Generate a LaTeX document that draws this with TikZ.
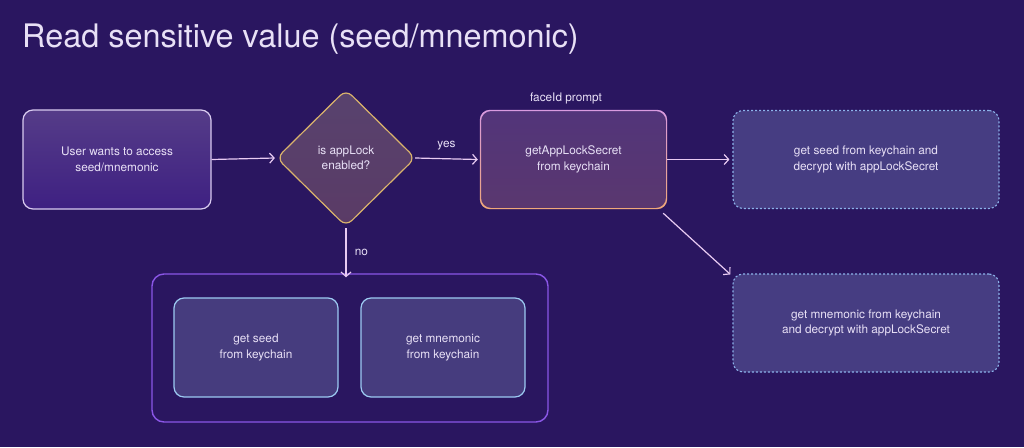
\documentclass[tikz,border=0pt]{standalone}
\usepackage{fontspec}
\setmainfont{TeX Gyre Heros}
\usepackage{tikz}
\usetikzlibrary{shapes.geometric,arrows.meta}

\definecolor{bgcol}{HTML}{2A1660}
\definecolor{txtcol}{HTML}{E8E0F6}
\definecolor{arrcol}{HTML}{E8CBF2}
\definecolor{usertop}{HTML}{553C88}
\definecolor{userbot}{HTML}{3E2082}
\definecolor{userline}{HTML}{D9CBF0}
\definecolor{locktop}{HTML}{52357A}
\definecolor{lockbot}{HTML}{5A376F}
\definecolor{lockpink}{HTML}{D99BE0}
\definecolor{lockorange}{HTML}{F0A878}
\definecolor{decfill}{HTML}{58426E}
\definecolor{decfillb}{HTML}{5A3B66}
\definecolor{decline}{HTML}{DBB46C}
\definecolor{seedfill}{HTML}{463C7E}
\definecolor{seedline}{HTML}{9CCAF2}
\definecolor{dashfill}{HTML}{463D82}
\definecolor{dashline}{HTML}{8CB3EA}
\definecolor{grpline}{HTML}{8A56E6}

\begin{document}
\begin{tikzpicture}[x=1pt,y=-1pt,
    txt/.style={text=txtcol, font=\fontsize{11.8}{15.5}\selectfont, align=center},
    userbox/.style={txt, rounded corners=10pt, inner sep=0pt, draw=userline, line width=1.2pt,
        top color=usertop, bottom color=userbot, minimum width=188pt, minimum height=99pt},
    lockbox/.style={txt, rounded corners=10pt, inner sep=0pt,
        top color=locktop, bottom color=lockbot, minimum width=187pt, minimum height=99pt},
    decision/.style={txt, diamond, rounded corners=8pt, inner sep=0pt, draw=decline, line width=1.2pt,
        top color=decfill, bottom color=decfillb, minimum width=139pt, minimum height=137pt},
    dashbox/.style={txt, rounded corners=10pt, inner sep=0pt, draw=dashline, line width=1.1pt,
        dash pattern=on 2pt off 2pt, fill=dashfill, minimum width=266pt, minimum height=98pt},
    seedbox/.style={txt, rounded corners=10pt, inner sep=0pt, draw=seedline, line width=1.2pt,
        fill=seedfill, minimum width=164pt, minimum height=99pt},
    grpbox/.style={rounded corners=12pt, inner sep=0pt, draw=grpline, line width=1.4pt,
        minimum width=396pt, minimum height=148pt},
    flow/.style={draw=arrcol, line width=1.2pt, -{Straight Barb[length=4.5pt,width=10pt]}}
  ]
  \fill[bgcol] (0,0) rectangle (1024,447);
  \useasboundingbox (0,0) rectangle (1024,447);

  \node[anchor=base west, text=txtcol, font=\fontsize{32.4}{36}\selectfont, inner sep=0pt] (title) at (22,47) {Read sensitive value (seed/mnemonic)};

  % flow nodes
  \node[userbox] (user) at (117,159.5) {User wants to access\\seed/mnemonic};
  \node[decision] (check) at (346,158) {is appLock\\enabled?};
  \node[lockbox] (lock) at (573.5,159.5) {getAppLockSecret\\from keychain};
  \shade[top color=lockpink, bottom color=lockorange, even odd rule, rounded corners=10pt]
    (lock.south west) rectangle (lock.north east)
    ([shift={(1.2pt,1.2pt)}]lock.south west) rectangle ([shift={(-1.2pt,-1.2pt)}]lock.north east);
  \node[txt, anchor=base] (face) at (566,101) {faceId prompt};

  \node[dashbox] (decseed) at (866,159.5) {get seed from keychain and\\decrypt with appLockSecret};
  \node[dashbox] (decmnem) at (866,323) {get mnemonic from keychain\\and decrypt with appLockSecret};

  % fallback group
  \node[grpbox] (grp) at (350,348) {};
  \node[seedbox] (seed) at (256,347.5) {get seed\\from keychain};
  \node[seedbox] (mnem) at (443,347.5) {get mnemonic\\from keychain};

  % connectors
  \draw[flow] (user.east) -- ([xshift=-1pt]check.west);
  \draw[flow] ([xshift=-1pt]check.east) -- node[txt, above=5pt] (yes) {yes} ([xshift=-2pt]lock.west);
  \draw[flow] ([yshift=-1pt]check.south) -- node[txt, right=5pt] (no) {no} ([yshift=-4pt]check.south |- grp.north);
  \draw[flow] (lock.east) -- ([xshift=-3pt]decseed.west);
  \draw[flow] ([shift={(-4pt,-4pt)}]lock.south east) -- ([shift={(-2pt,-1pt)}]decmnem.north west);
\end{tikzpicture}
\end{document}
